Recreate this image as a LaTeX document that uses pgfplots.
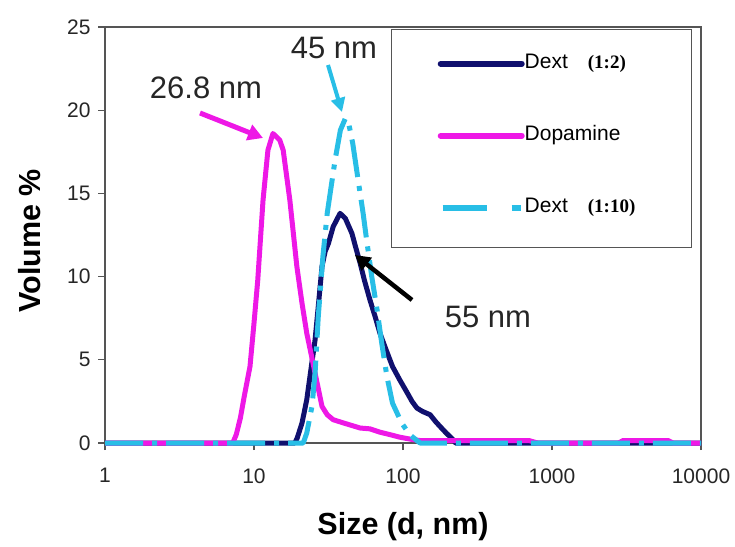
\documentclass[border=0pt]{standalone}
\usepackage{fontspec}
\setmainfont{Liberation Sans}
\newfontfamily\ratiofont{Liberation Serif}
\usepackage{pgfplots}
\pgfplotsset{compat=1.18}
\usetikzlibrary{arrows.meta}

\definecolor{dextnavy}{RGB}{16,16,110}
\definecolor{dopamag}{RGB}{238,24,230}
\definecolor{dextcyan}{RGB}{40,190,230}
\definecolor{axisgray}{RGB}{85,85,85}

% size distributions (volume %)
\pgfplotstableread{
x y
1 0
18.8 0
19.5 0.3
21 1.2
22.6 2.6
24 4.3
25.7 6.2
27 8.2
28.6 10.6
30 11.5
31.6 12.0
34 13.0
37.8 13.8
41 13.5
45.4 12.6
48 11.8
51.6 10.8
55 9.8
60 8.6
65 7.6
70 6.6
77 5.6
85 4.6
95 3.8
107 3.0
115 2.5
124 2.1
135 1.9
152 1.7
165 1.3
177 1.0
195 0.6
217 0.2
225 0
10000 0
}\dextA

\pgfplotstableread{
x y
1 0
7.2 0
7.6 0.5
8.1 1.5
8.6 2.8
9.4 4.6
10.0 7.2
10.6 9.8
11.5 14.6
12.4 17.6
13.4 18.6
14.9 18.2
15.7 17.6
17.4 14.6
19.4 10.6
21 8.4
22.6 6.6
25.7 4.2
28.6 2.2
31 1.7
34 1.4
40 1.2
51.6 0.9
60 0.85
70 0.65
82 0.5
95 0.35
117 0.2
130 0.15
700 0.15
800 0
2800 0
3000 0.15
6000 0.15
6500 0
10000 0
}\dopa

\pgfplotstableread{
x y
1 0
21.4 0
22.6 0.6
24.5 2.2
25.7 4.2
27 7.6
29 11.2
31 13.8
35 17.0
38 18.8
41 19.5
43 19.3
46 18.0
50 15.8
54 13.8
57 12.2
61.7 10.0
67 8.0
72 6.0
78 4.0
85 2.4
98 1.2
111 0.5
130 0
10000 0
}\dextB

\begin{document}
\begin{tikzpicture}[x=1pt,y=1pt]
\useasboundingbox (0,0) rectangle (735,546);
\begin{axis}[
  at={(105pt,103pt)}, anchor=south west,
  width=596pt, height=416pt, scale only axis,
  xmode=log, log basis x=10,
  xmin=1, xmax=10000, ymin=0, ymax=25,
  xtick={1,10,100,1000,10000},
  xticklabels={1,10,100,1000,10000},
  ytick={0,5,10,15,20,25},
  xminorticks=false, yminorticks=false,
  xtick pos=bottom, ytick pos=left,
  tick align=outside, major tick length=7pt,
  tick style={axisgray, line width=1.2pt},
  axis line style={axisgray, line width=1.3pt},
  clip=false,
  /pgf/number format/assume math mode=true,
  tick label style={font=\fontsize{21}{24}\selectfont, text=black!85},
  xticklabel style={yshift=-15pt},
  yticklabel style={xshift=-4pt},
  xlabel={Size (d, nm)},
  ylabel={Volume \%},
  every axis x label/.style={at={(rel axis cs:0.5,-0.202)}, anchor=center,
    font=\fontsize{30.5}{34}\selectfont\bfseries},
  every axis y label/.style={at={(rel axis cs:-0.126,0.486)}, anchor=center,
    rotate=90, font=\fontsize{30.5}{34}\selectfont\bfseries},
  legend cell align=left,
  legend style={
    at={(rel axis cs:0.48,0.995)}, anchor=north west,
    draw=axisgray, line width=1.3pt, fill=white,
    font=\fontsize{21}{24}\selectfont,
    inner xsep=46pt, inner ysep=24pt,
    row sep=46pt,
    nodes={inner sep=0pt, text height=15pt, text depth=11pt, text width=121pt},
    /tikz/every even column/.append style={column sep=5pt},
  },
  legend image code/.code={\draw[#1, line width=6pt, line cap=round] (0pt,3pt) -- (81pt,3pt);},
]
\addplot[dextnavy, line width=5pt, line join=round] table[x=x,y=y] {\dextA};
\addlegendentry{Dext\hspace{20pt}{\ratiofont\bfseries\fontsize{19}{22}\selectfont (1:2)}}
\addplot[dopamag, line width=5pt, line join=round] table[x=x,y=y] {\dopa};
\addlegendentry{Dopamine}
\addplot[dextcyan, line width=5pt, line join=round,
  dash pattern={on 38pt off 9pt on 5pt off 9pt},
  legend image code/.code={\draw[dextcyan, line width=6pt, line cap=butt,
    dash pattern={on 44pt off 25pt on 9pt off 20pt}] (2pt,3pt) -- (81pt,3pt);}]
  table[x=x,y=y] {\dextB};
\addlegendentry{Dext\hspace{20pt}{\ratiofont\bfseries\fontsize{19}{22}\selectfont (1:10)}}
\end{axis}

% peak annotations
\node[font=\fontsize{31}{34}\selectfont, text=black!85] at (206,458) {26.8 nm};
\draw[dopamag, line width=5pt, -{Triangle[length=15pt,width=16pt]}] (200,433) -- (263,408);
\node[font=\fontsize{31}{34}\selectfont, text=black!85] at (334,498) {45 nm};
\draw[dextcyan, line width=4pt, -{Triangle[length=14pt,width=14pt]}] (328,481) -- (342,434);
\node[font=\fontsize{31}{34}\selectfont, text=black!85] at (488,229) {55 nm};
\draw[black, line width=4.5pt, -{Triangle[length=15pt,width=16pt]}] (412,246) -- (355,291);
\end{tikzpicture}
\end{document}
